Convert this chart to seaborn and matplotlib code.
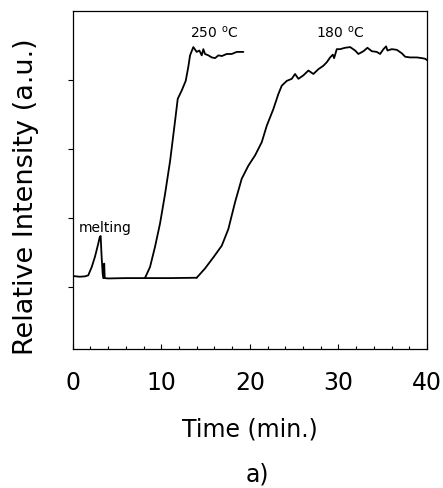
import matplotlib
matplotlib.use("Agg")
import matplotlib.pyplot as plt
import seaborn as sns
import pandas as pd
from matplotlib.ticker import MultipleLocator

# Data
melt_t = [0.0, 0.8, 1.4, 1.76, 2.15, 2.52, 2.89, 3.05, 3.16, 3.27, 3.39, 3.46, 3.52, 3.56, 3.62, 4.0, 6.0, 8.16, 11.0, 14.0]
melt_v = [1.16, 1.15, 1.155, 1.17, 1.29, 1.44, 1.63, 1.72, 1.74, 1.44, 1.19, 1.13, 1.13, 1.34, 1.13, 1.125, 1.13, 1.13, 1.13, 1.135]

t250 = [8.16, 8.73, 9.29, 9.86, 10.43, 11.0, 11.56, 11.86, 12.31, 12.76, 13.05, 13.25, 13.62,
        14.0, 14.3, 14.57, 14.75, 14.94, 15.32, 15.70, 16.07, 16.45, 16.83, 17.39, 17.96,
        18.52, 18.97, 19.27]
v250 = [1.13, 1.29, 1.58, 1.92, 2.35, 2.83, 3.41, 3.73, 3.85, 3.99, 4.19, 4.36, 4.48,
        4.41, 4.43, 4.36, 4.45, 4.38, 4.36, 4.33, 4.32, 4.36, 4.35, 4.38, 4.38,
        4.41, 4.41, 4.41]

t180 = [14.0, 14.94, 15.88, 16.83, 17.57, 18.33, 19.08, 19.83, 20.59, 21.34, 21.91, 22.65,
        23.22, 23.60, 24.17, 24.73, 25.10, 25.48, 26.04, 26.61, 27.17, 27.74, 28.30, 28.68,
        29.06, 29.36, 29.51, 29.81, 30.19, 30.75, 31.32, 31.88, 32.25, 32.82, 33.27, 33.77,
        34.33, 34.70, 35.08, 35.38, 35.53, 36.02, 36.59, 37.15, 37.53, 38.09, 38.85, 39.41,
        39.8, 40.0]
v180 = [1.135, 1.27, 1.43, 1.60, 1.84, 2.23, 2.57, 2.76, 2.91, 3.10, 3.34, 3.58,
        3.80, 3.92, 3.99, 4.02, 4.09, 4.02, 4.07, 4.14, 4.09, 4.16, 4.21, 4.26,
        4.33, 4.37, 4.32, 4.45, 4.45, 4.47, 4.48, 4.43, 4.38, 4.42, 4.47, 4.42,
        4.41, 4.38, 4.45, 4.49, 4.43, 4.45, 4.44, 4.39, 4.34, 4.33, 4.33, 4.32,
        4.31, 4.29]

x_ticks = [0, 10, 20, 30, 40]
y_ticks = [1, 2, 3, 4]
labels = ["melting", "250 $^{\\mathrm{o}}$C", "180 $^{\\mathrm{o}}$C"]

sns.set_theme(style="ticks")
plt.rcParams['font.family'] = ['DejaVu Sans']
plt.rcParams['mathtext.fontset'] = 'dejavusans'
plt.rcParams['text.color'] = 'black'
plt.rcParams['axes.labelcolor'] = 'black'
plt.rcParams['xtick.color'] = 'black'
plt.rcParams['ytick.color'] = 'black'

fig = plt.figure(figsize=(4.43, 4.89), dpi=100)
ax = fig.add_axes([0.164, 0.284, 0.800, 0.691])

for t, v in [(melt_t, melt_v), (t250, v250), (t180, v180)]:
    df = pd.DataFrame({"t": t, "v": v})
    sns.lineplot(data=df, x="t", y="v", ax=ax, color="black", lw=1.3,
                 sort=False, estimator=None)

ax.set_xlim(0, 40)
ax.set_ylim(0.1, 5.0)
ax.set_xticks(x_ticks)
ax.xaxis.set_minor_locator(MultipleLocator(2))
ax.set_yticks(y_ticks)
ax.set_yticklabels([])
ax.tick_params(axis='x', which='major', direction='in', length=3.5, width=0.8,
               labelsize=17, pad=15, colors='black')
ax.tick_params(axis='x', which='minor', direction='in', length=2.5, width=0.8)
ax.tick_params(axis='y', which='major', direction='out', length=3.5, width=0.8)
for s in ax.spines.values():
    s.set_linewidth(0.9)
    s.set_color('black')

ax.set_xlabel("Time (min.)", fontsize=17, color='black')
ax.xaxis.set_label_coords(0.5, -0.198)
ax.set_ylabel("Relative Intensity (a.u.)", fontsize=19.5, color='black')
ax.yaxis.set_label_coords(-0.095, 0.453)

ax.text(3.66, 1.87, labels[0], fontsize=10, ha='center', va='center', color='black')
ax.text(15.96, 4.70, labels[1], fontsize=10, ha='center', va='center', color='black')
ax.text(30.2, 4.70, labels[2], fontsize=10, ha='center', va='center', color='black')

fig.text(257 / 443, 1 - 475 / 489, "a)", fontsize=17, ha='center', va='center', color='black')

fig.savefig("out.png", dpi=100)
